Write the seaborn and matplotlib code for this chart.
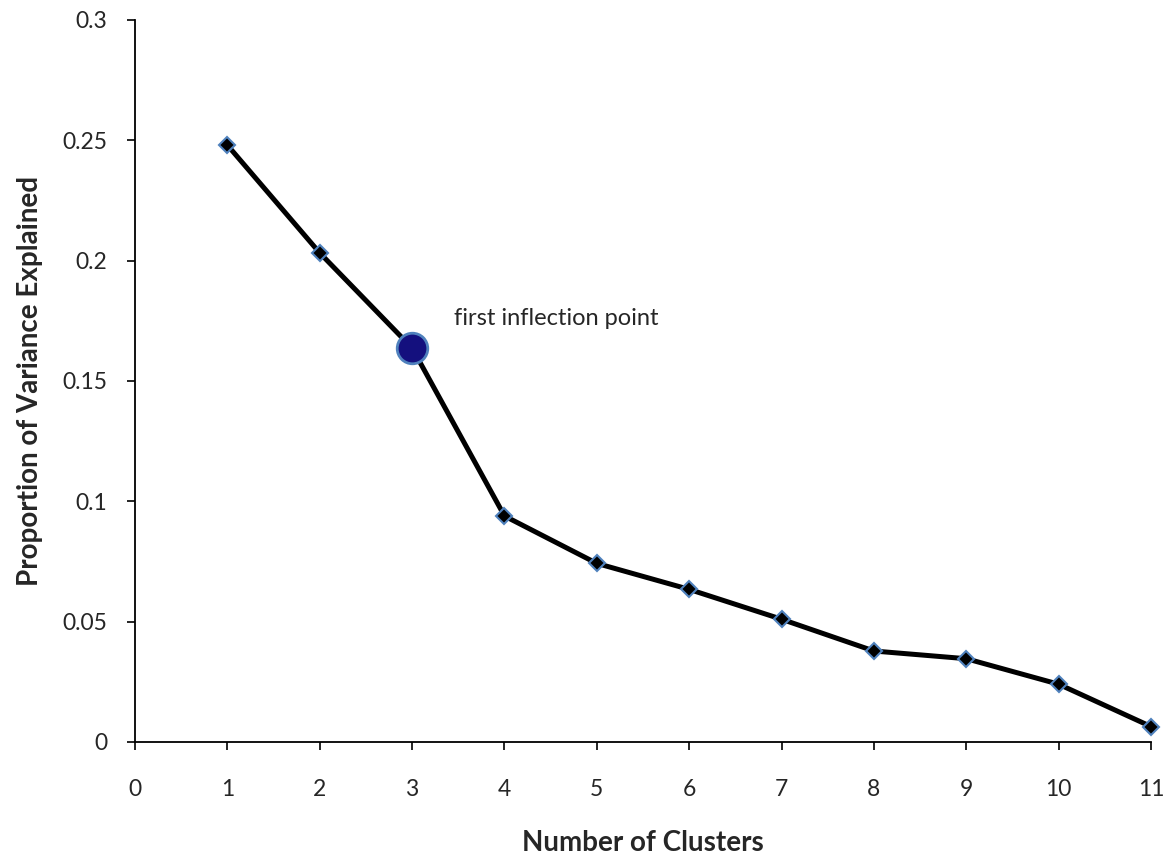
import numpy as np
import pandas as pd
import matplotlib
matplotlib.use('Agg')
import matplotlib.pyplot as plt
import seaborn as sns

# values
clusters = [1, 2, 3, 4, 5, 6, 7, 8, 9, 10, 11]
variance = [0.248, 0.2032, 0.1637, 0.0939, 0.0742, 0.0634, 0.051, 0.0378, 0.0346, 0.024, 0.0064]
x_ticks = list(range(0, 12))
y_ticks = [0, 0.05, 0.1, 0.15, 0.2, 0.25, 0.3]
y_labels = ['0', '0.05', '0.1', '0.15', '0.2', '0.25', '0.3']
inflection_x = 3
inflection_y = 0.1637

df = pd.DataFrame({'Clusters': clusters, 'Variance': variance})

sns.set_style('white')
plt.rcParams['font.family'] = ['Lato', 'DejaVu Sans']

fig = plt.figure(figsize=(11.71, 8.57), dpi=100)
ax = fig.add_axes([0.1153, 0.1342, 0.8677, 0.8425])

sns.lineplot(data=df, x='Clusters', y='Variance', ax=ax, color='black',
             linewidth=3.6, marker='D', markersize=8, clip_on=False,
             markerfacecolor='black', markeredgecolor='#4f81bd', markeredgewidth=1.5)

# highlight the first inflection point
ax.plot([inflection_x], [inflection_y], marker='o', markersize=22,
        markerfacecolor='#14107e', markeredgecolor='#4f81bd', markeredgewidth=2, zorder=5)
ax.text(3.45, 0.176, 'first inflection point', fontsize=17, ha='left', va='center')

ax.set_xlim(0, 11)
ax.set_ylim(0, 0.3)
ax.set_xticks(x_ticks)
ax.set_xticklabels([str(t) for t in x_ticks], fontsize=16.5)
ax.set_yticks(y_ticks)
ax.set_yticklabels(y_labels, fontsize=16.5)
ax.tick_params(axis='both', direction='out', length=6, width=1.2, color='black',
               bottom=True, left=True)
ax.tick_params(axis='x', pad=21)
ax.tick_params(axis='y', pad=14)

sns.despine(ax=ax)
for s in ['left', 'bottom']:
    ax.spines[s].set_color('black')
    ax.spines[s].set_linewidth(1.3)

ax.set_xlabel('Number of Clusters', fontsize=20, fontweight='bold', labelpad=21)
ax.set_ylabel('Proportion of Variance Explained', fontsize=20, fontweight='bold', labelpad=14)

fig.savefig('out.png', dpi=100)
